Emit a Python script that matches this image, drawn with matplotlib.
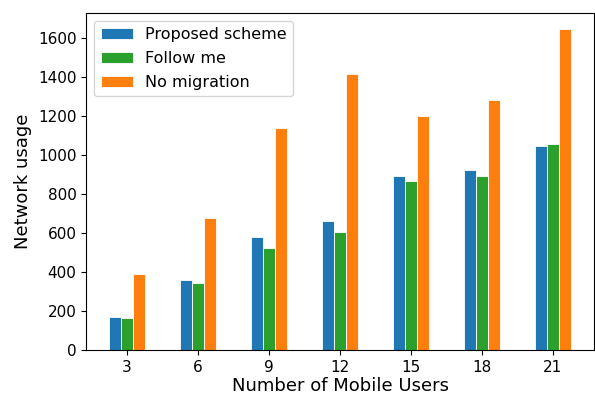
import numpy as np
import matplotlib.pyplot as plt

# Number of mobile users (x categories)
users = [3, 6, 9, 12, 15, 18, 21]

# Network usage per scheme
proposed = [169, 359, 578, 660, 889, 920, 1046]
follow_me = [165, 345, 521, 605, 863, 892, 1056]
no_migration = [390, 678, 1138, 1415, 1200, 1282, 1644]

x = np.array(users)
width = 0.5

fig, ax = plt.subplots(figsize=(5.95, 3.94), dpi=100)
ax.bar(x - width, proposed, width, color='#1f77b4', edgecolor='white', linewidth=0.6, label='Proposed scheme')
ax.bar(x, follow_me, width, color='#2ca02c', edgecolor='white', linewidth=0.6, label='Follow me')
ax.bar(x + width, no_migration, width, color='#ff7f0e', edgecolor='white', linewidth=0.6, label='No migration')

ax.set_xticks(users)
ax.tick_params(labelsize=11)
ax.set_xlabel('Number of Mobile Users', fontsize=13, labelpad=1.5)
ax.set_ylabel('Network usage', fontsize=13)
ax.legend(loc='upper left', fontsize=11.5, labelspacing=0.55)

fig.subplots_adjust(left=0.145, right=0.998, top=0.967, bottom=0.112)
fig.savefig('out.png')
